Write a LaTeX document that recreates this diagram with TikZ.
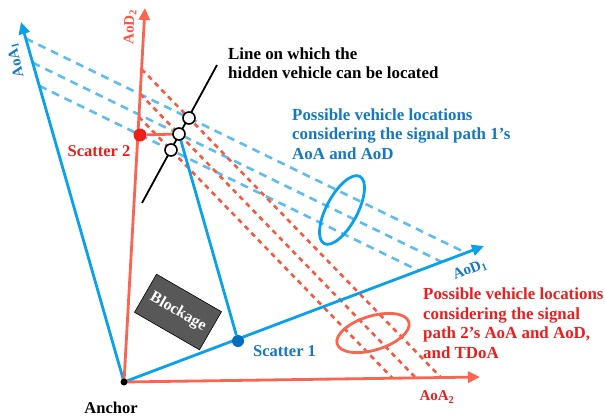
\documentclass[tikz,border=0pt]{standalone}
\usepackage{fontspec}
\setmainfont{Liberation Serif}
\usetikzlibrary{arrows.meta,calc,shapes.geometric}
\definecolor{axisblue}{RGB}{10,160,235}
\definecolor{dashblue}{RGB}{95,188,242}
\definecolor{axisred}{RGB}{250,100,80}
\definecolor{dashred}{RGB}{245,90,65}
\definecolor{textblue}{RGB}{20,120,195}
\definecolor{textred}{RGB}{235,30,30}
\definecolor{dotblue}{RGB}{0,110,190}
\definecolor{dotred}{RGB}{235,30,25}
\definecolor{blockgray}{RGB}{88,88,88}
\begin{document}
\begin{tikzpicture}[x=1pt,y=-1pt,
  baxis/.style={draw=axisblue,line width=2.8pt,-{Triangle[length=12pt,width=11pt]}},
  raxis/.style={draw=axisred,line width=2.8pt,-{Triangle[length=12pt,width=11pt]}},
  bdash/.style={draw=dashblue,line width=2.6pt,dash pattern=on 8pt off 6pt},
  rdash/.style={draw=dashred,line width=2.6pt,dash pattern=on 5pt off 4.5pt},
  ring/.style={circle,draw=black,fill=white,line width=1.6pt,inner sep=0pt,minimum size=12pt},
  lab/.style={font=\bfseries\fontsize{16.5}{19.5}\selectfont,inner sep=0pt},
  axlab/.style={font=\bfseries\fontsize{15}{17}\selectfont,inner sep=0pt},
  txt/.style={font=\bfseries\fontsize{16.9}{19.5}\selectfont,inner sep=0pt,align=left,anchor=west}]
\useasboundingbox (0,0) rectangle (605,420);
% key points
\coordinate (anchor) at (124,382);
\coordinate (tAoA1) at (21,22);
\coordinate (tAoD2) at (145,8);
\coordinate (tAoD1) at (484,246);
\coordinate (tAoA2) at (480,377);
\coordinate (p1) at (189,118);
\coordinate (p2) at (179,134);
\coordinate (p3) at (171,150);
\coordinate (bq1) at ($(p1)+(100,48.7)$);
\coordinate (bq2) at ($(p2)+(100,48.7)$);
\coordinate (bq3) at ($(p3)+(100,48.7)$);
\coordinate (rq1) at ($(p1)+(100,103)$);
\coordinate (rq2) at ($(p2)+(100,103)$);
\coordinate (rq3) at ($(p3)+(100,103)$);
% blue dashed lines
\draw[bdash] (intersection of p1--bq1 and anchor--tAoA1) -- (intersection of p1--bq1 and anchor--tAoD1);
\draw[bdash] (intersection of p2--bq2 and anchor--tAoA1) -- (intersection of p2--bq2 and anchor--tAoD1);
\draw[bdash] (intersection of p3--bq3 and anchor--tAoA1) -- (intersection of p3--bq3 and anchor--tAoD1);
% red dashed lines
\draw[rdash] (intersection of p1--rq1 and anchor--tAoD2) -- (intersection of p1--rq1 and anchor--tAoA2);
\draw[rdash] (intersection of p2--rq2 and anchor--tAoD2) -- (intersection of p2--rq2 and anchor--tAoA2);
\draw[rdash] (intersection of p3--rq3 and anchor--tAoD2) -- (intersection of p3--rq3 and anchor--tAoA2);
% axes
\draw[baxis] (anchor) -- (tAoA1);
\draw[baxis] (anchor) -- (tAoD1);
\draw[raxis] (anchor) -- (tAoD2);
\draw[raxis] (anchor) -- (tAoA2);
% scatters
\node[circle,fill=dotblue,inner sep=0pt,minimum size=12pt] (s1) at (238,341) {};
\node[circle,fill=dotred,inner sep=0pt,minimum size=13pt] (s2) at (140,135) {};
\draw[draw=axisblue,line width=2.8pt] (s1) -- (p2);
\draw[draw=axisred,line width=2.8pt] (s2) -- (p2);
% black line
\coordinate (lt) at (217,65);
\coordinate (lb) at (142,203);
\draw[line width=1.8pt] (lt) -- (lb);
\node[ring] (c1) at (p1) {};
\node[ring] (c2) at (p2) {};
\node[ring] (c3) at (p3) {};
% anchor
\node[circle,fill=black,inner sep=0pt,minimum size=7pt] (anc) at (anchor) {};
% ellipses
\node[ellipse,draw=axisblue,line width=2.8pt,minimum width=76pt,minimum height=31pt,inner sep=0pt,rotate=62] (e1) at (342,210) {};
\node[ellipse,draw=axisred,line width=2.8pt,minimum width=75pt,minimum height=34pt,inner sep=0pt,rotate=17] (e2) at (373,333) {};
% blockage
\node[draw=black,fill=blockgray,line width=0.6pt,minimum width=75pt,minimum height=44pt,rotate=-30,text=white,font=\bfseries\fontsize{16}{18}\selectfont] (block) at (178,312) {Blockage};
% labels
\node[lab] (lanc) at (111,408) {Anchor};
\node[lab,text=textblue,anchor=west] (ls1) at (253,351) {Scatter 1};
\node[lab,text=textred] (ls2) at (99,151) {Scatter 2};
\node[axlab,text=textblue,rotate=103] (lAoA1) at (16,60) {AoA\textsubscript{1}};
\node[axlab,text=axisred!85!red,rotate=88] (lAoD2) at (130,27) {AoD\textsubscript{2}};
\node[axlab,text=textblue,rotate=21] (lAoD1) at (470,270) {AoD\textsubscript{1}};
\node[axlab,text=textred] (lAoA2) at (437,397) {AoA\textsubscript{2}};
\node[txt] (tline) at (228,63) {Line on which the\\hidden vehicle can be located};
\node[txt,text=textblue] (tblue) at (292,134) {Possible vehicle locations\\considering the signal path 1’s\\AoA and AoD};
\node[txt,text=textred] (tred) at (423,323) {Possible vehicle locations\\considering the signal\\path 2’s AoA and AoD,\\and TDoA};
\end{tikzpicture}
\end{document}
